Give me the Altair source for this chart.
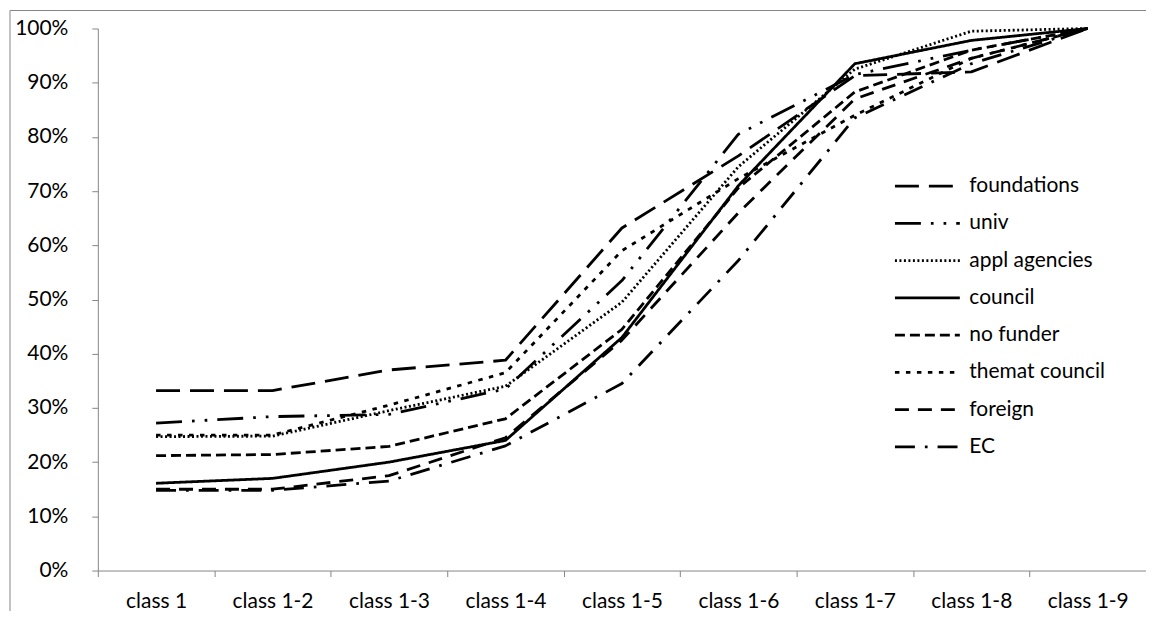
import altair as alt
import pandas as pd

categories = ["class 1", "class 1-2", "class 1-3", "class 1-4", "class 1-5",
              "class 1-6", "class 1-7", "class 1-8", "class 1-9"]
series_names = ["foundations", "univ", "appl agencies", "council", "no funder",
                "themat council", "foreign", "EC"]

foundations = [0.332, 0.332, 0.370, 0.388, 0.632, 0.765, 0.913, 0.920, 1.0]
univ = [0.272, 0.284, 0.288, 0.335, 0.535, 0.805, 0.915, 0.960, 1.0]
appl_agencies = [0.247, 0.248, 0.295, 0.340, 0.495, 0.745, 0.925, 0.995, 1.0]
council = [0.161, 0.170, 0.200, 0.240, 0.430, 0.710, 0.935, 0.978, 1.0]
no_funder = [0.212, 0.214, 0.229, 0.280, 0.445, 0.706, 0.883, 0.960, 1.0]
themat_council = [0.250, 0.250, 0.305, 0.365, 0.590, 0.723, 0.840, 0.945, 1.0]
foreign = [0.150, 0.150, 0.175, 0.245, 0.425, 0.660, 0.870, 0.945, 1.0]
ec = [0.148, 0.148, 0.165, 0.230, 0.345, 0.572, 0.835, 0.935, 1.0]

values = [foundations, univ, appl_agencies, council, no_funder, themat_council, foreign, ec]

dashes = [[24, 10], [26, 10, 2.7, 10, 2.7, 10], [2, 2.5], [1, 0], [10, 5],
          [4.5, 6.5], [14, 9], [20, 10, 2.7, 10]]
widths = [2.8, 2.8, 2.0, 2.8, 2.8, 4.5, 2.8, 2.8]

rows = []
for name, vals in zip(series_names, values):
    for c, v in zip(categories, vals):
        rows.append({"category": c, "series": name, "value": v})
df = pd.DataFrame(rows)

FONT = "Lato"
FS = 21
W, H = 1050, 543

legend = alt.Legend(
    title=None, orient="none", legendX=797, legendY=148,
    symbolType="stroke", symbolSize=4225, clipHeight=20, rowPadding=16.3,
    labelFont=FONT, labelFontSize=FS, labelColor="black", labelOffset=8,
    symbolStrokeColor="black", padding=0,
)

lines = alt.Chart(df).mark_line(color="black", strokeCap="butt", strokeJoin="round").encode(
    x=alt.X("category:N", sort=categories, title=None,
            scale=alt.Scale(paddingInner=0, paddingOuter=0),
            axis=alt.Axis(labelAngle=0, tickBand="extent", tickSize=6, labelPadding=14,
                          domainColor="#868686", tickColor="#868686",
                          labelFont=FONT, labelFontSize=FS, labelColor="black")),
    y=alt.Y("value:Q", title=None, scale=alt.Scale(domain=[0, 1]),
            axis=alt.Axis(format=".0%", values=[i / 10 for i in range(11)], tickSize=6,
                          labelPadding=24, grid=False,
                          domainColor="#868686", tickColor="#868686",
                          labelFont=FONT, labelFontSize=FS, labelColor="black")),
    strokeDash=alt.StrokeDash("series:N", scale=alt.Scale(domain=series_names, range=dashes),
                              legend=legend),
    strokeWidth=alt.StrokeWidth("series:N", scale=alt.Scale(domain=series_names, range=widths),
                                legend=legend),
    detail="series:N",
)

frame_top = alt.Chart(alt.Data(values=[{}])).mark_rule(
    stroke="#868686", strokeWidth=1
).encode(x=alt.value(-88), x2=alt.value(W + 200), y=alt.value(-18))

frame_left = alt.Chart(alt.Data(values=[{}])).mark_rule(
    stroke="#868686", strokeWidth=1
).encode(x=alt.value(-88), y=alt.value(-18), y2=alt.value(H + 200))

chart = alt.layer(frame_top, frame_left, lines).properties(
    width=W, height=H,
    autosize=alt.AutoSizeParams(type="none"),
    padding={"left": 90, "top": 20, "right": 0, "bottom": 40},
).configure_view(stroke=None)

chart.save("out.html", embed_options={"renderer": "svg", "actions": False})
